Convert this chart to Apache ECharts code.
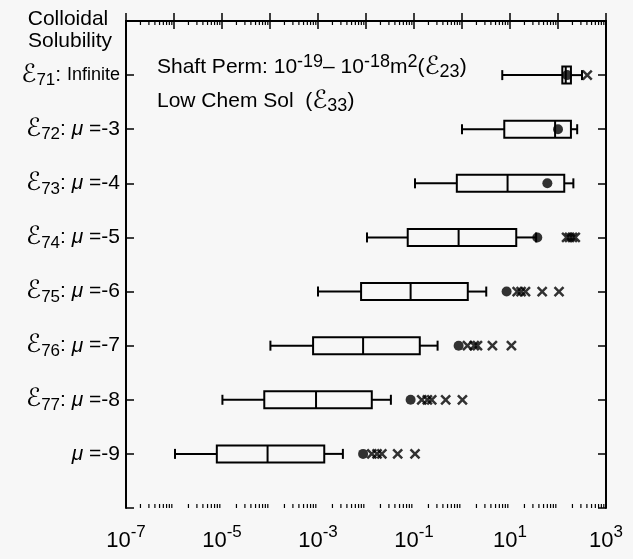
<!DOCTYPE html>
<html><head><meta charset="utf-8">
<script src="https://cdn.jsdelivr.net/npm/echarts@6/dist/echarts.min.js"></script>
<style>html,body{margin:0;padding:0;background:#f7f7f7}#c{width:633px;height:559px}</style>
</head><body><div id="c"></div>
<script>
// ---- data ----
const rowSubs = ['71','72','73','74','75','76','77',''];
const rowTexts = ['Infinite','-3','-4','-5','-6','-7','-8','-9'];
const whiskerLow  = [6.9, 1.0, 0.105, 0.0105, 0.001, 1.02e-4, 1.02e-5, 1.05e-6];
const quart1      = [123, 7.6, 0.78, 0.074, 0.0079, 7.9e-4, 7.6e-5, 7.8e-6];
const medians     = [145, 87, 8.9, 0.85, 0.085, 8.7e-3, 9.1e-4, 8.9e-5];
const quart3      = [186, 186, 135, 13.5, 1.32, 0.132, 0.0132, 1.35e-3];
const whiskerHigh = [316, 251, 209, 35, 3.2, 0.31, 0.033, 3.3e-3];
const means       = [155, 100, 60, 37, 8.5, 0.85, 0.085, 8.7e-3];
const outliers = [
  [407], [], [], [151, 174, 200, 229],
  [14.1, 17.0, 21.0, 46.8, 105],
  [1.3, 1.8, 2.1, 4.3, 10.7],
  [0.145, 0.19, 0.234, 0.457, 1.02],
  [0.0132, 0.017, 0.0214, 0.0457, 0.105]
];
const xLabelExps = [-7, -5, -3, -1, 1, 3];
const xMinExp = -7, xMaxExp = 3;

// ---- build ----
const FONT = '"Liberation Sans", Arial, sans-serif';
const EFONT = '"DejaVu Sans", sans-serif';
const BG = '#f7f7f7';
const boxData = rowSubs.map((_, i) => [i + 1, whiskerLow[i], quart1[i], medians[i], quart3[i], whiskerHigh[i]]);
const meanData = means.map((m, i) => [m, i + 1]);
const outData = [];
outliers.forEach((arr, i) => arr.forEach(v => outData.push([v, i + 1])));
const minorTicks = [];
for (let e = xMinExp; e < xMaxExp; e++) for (let m = 2; m <= 9; m++) minorTicks.push([m * Math.pow(10, e), 4.5]);

function renderBox(params, api) {
  const y = api.value(0);
  const xs = [1, 2, 3, 4, 5].map(i => api.coord([api.value(i), y]));
  const cy = xs[0][1];
  const [lo, q1, med, q3, hi] = xs.map(p => p[0]);
  const hb = 8.5, hc = 5;
  const st = { stroke: '#000', lineWidth: 2, fill: null };
  return { type: 'group', children: [
    { type: 'line', shape: { x1: lo, y1: cy, x2: q1, y2: cy }, style: st },
    { type: 'line', shape: { x1: q3, y1: cy, x2: hi, y2: cy }, style: st },
    { type: 'line', shape: { x1: lo, y1: cy - hc, x2: lo, y2: cy + hc }, style: st },
    { type: 'line', shape: { x1: hi, y1: cy - hc, x2: hi, y2: cy + hc }, style: st },
    { type: 'rect', shape: { x: q1, y: cy - hb, width: q3 - q1, height: 2 * hb }, style: { stroke: '#000', lineWidth: 2, fill: BG } },
    { type: 'line', shape: { x1: med, y1: cy - hb, x2: med, y2: cy + hb }, style: st }
  ]};
}
function renderMinor(params, api) {
  const cs = params.coordSys;
  const x = api.coord([api.value(0), 4.5])[0];
  const st = { stroke: '#000', lineWidth: 1.2 };
  const b = cs.y + cs.height;
  return { type: 'group', children: [
    { type: 'line', shape: { x1: x, y1: b, x2: x, y2: b - 4 }, style: st },
    { type: 'line', shape: { x1: x, y1: cs.y, x2: x, y2: cs.y + 4 }, style: st }
  ]};
}

const yRich = {
  e: { fontSize: 25, fontFamily: EFONT, lineHeight: 28, verticalAlign: 'middle', color: '#000' },
  sub: { fontSize: 17, fontFamily: FONT, lineHeight: 17, verticalAlign: 'bottom', color: '#000' },
  t: { fontSize: 21, fontFamily: FONT, lineHeight: 28, verticalAlign: 'middle', color: '#000' },
  s: { fontSize: 18, fontFamily: FONT, lineHeight: 28, verticalAlign: 'middle', color: '#000' },
  m: { fontSize: 21, fontFamily: FONT, fontStyle: 'italic', lineHeight: 28, verticalAlign: 'middle', color: '#000' }
};
function yLabel(v) {
  const i = Math.round(v) - 1;
  if (i < 0 || i > 7) return '';
  let s = rowSubs[i] ? '{e|ℰ}{sub|' + rowSubs[i] + '}{t|: }' : '';
  if (i === 0) s += '{s|' + rowTexts[i] + '}';
  else s += '{m|μ}{t| =' + rowTexts[i] + '}';
  return s;
}
function xLabel(v) {
  const e = Math.round(Math.log10(v));
  if (xLabelExps.indexOf(e) < 0) return '';
  return '{b|10}{s|' + e + '}';
}

const axisLineSt = { show: true, lineStyle: { color: '#000', width: 2 } };
const tickSt = { show: true, inside: true, length: 8, lineStyle: { color: '#000', width: 1.5 } };
const chart = echarts.init(document.getElementById('c'));
chart.setOption({
  backgroundColor: BG,
  animation: false,
  grid: { left: 126, right: 27, top: 21, bottom: 51, containLabel: false },
  xAxis: [
    { type: 'log', logBase: 10, min: 1e-7, max: 1e3, interval: 1, position: 'bottom',
      axisLine: axisLineSt, splitLine: { show: false }, axisTick: tickSt,
      axisLabel: { formatter: xLabel, margin: 16, rich: {
        b: { fontSize: 22, fontFamily: FONT, lineHeight: 28, verticalAlign: 'bottom', color: '#000' },
        s: { fontSize: 17, fontFamily: FONT, lineHeight: 17, verticalAlign: 'top', color: '#000' } } } },
    { type: 'log', logBase: 10, min: 1e-7, max: 1e3, interval: 1, position: 'top',
      axisLine: axisLineSt, splitLine: { show: false }, axisTick: tickSt,
      axisLabel: { show: false } }
  ],
  yAxis: [
    { type: 'value', min: 0, max: 9, interval: 1, inverse: true, position: 'left',
      axisLine: axisLineSt, splitLine: { show: false }, axisTick: tickSt,
      axisLabel: { formatter: yLabel, margin: 6, rich: yRich } },
    { type: 'value', min: 0, max: 9, interval: 1, inverse: true, position: 'right',
      axisLine: axisLineSt, splitLine: { show: false }, axisTick: tickSt,
      axisLabel: { show: false } }
  ],
  series: [
    { type: 'custom', renderItem: renderMinor, data: minorTicks, encode: { x: 0, y: 1 }, silent: true, clip: false },
    { type: 'custom', renderItem: renderBox, data: boxData, encode: { x: [1, 2, 3, 4, 5], y: 0 }, z: 3 },
    { type: 'scatter', data: meanData, symbol: 'circle', symbolSize: 10, itemStyle: { color: '#000' }, z: 4 },
    { type: 'scatter', data: outData, symbol: 'path://M0 0L10 10M10 0L0 10', symbolSize: 9,
      itemStyle: { color: 'none', borderColor: '#000', borderWidth: 2.5 }, z: 4 }
  ],
  graphic: [
    { type: 'text', x: 68, y: 9, style: { text: 'Colloidal', font: '21px ' + FONT, fill: '#000', align: 'center' } },
    { type: 'text', x: 70, y: 31, style: { text: 'Solubility', font: '21px ' + FONT, fill: '#000', align: 'center' } },
    { type: 'text', left: 157, top: 53, style: {
      text: '{t|Shaft Perm: 10}{sup|-19}{t|– 10}{sup|-18}{t|m}{sup|2}{t|(}{e|ℰ}{sub|23}{t|)}',
      rich: {
        t: { fontSize: 21, fontFamily: FONT, lineHeight: 28, verticalAlign: 'middle', fill: '#000' },
        sup: { fontSize: 18, fontFamily: FONT, lineHeight: 18, verticalAlign: 'top', fill: '#000' },
        sub: { fontSize: 18, fontFamily: FONT, lineHeight: 18, verticalAlign: 'bottom', fill: '#000' },
        e: { fontSize: 25, fontFamily: EFONT, lineHeight: 28, verticalAlign: 'middle', fill: '#000' }
      } } },
    { type: 'text', left: 157, top: 89, style: {
      text: '{t|Low Chem Sol  (}{e|ℰ}{sub|33}{t|)}',
      rich: {
        t: { fontSize: 21, fontFamily: FONT, lineHeight: 28, verticalAlign: 'middle', fill: '#000' },
        sub: { fontSize: 18, fontFamily: FONT, lineHeight: 18, verticalAlign: 'bottom', fill: '#000' },
        e: { fontSize: 25, fontFamily: EFONT, lineHeight: 28, verticalAlign: 'middle', fill: '#000' }
      } } }
  ]
});
</script></body></html>
